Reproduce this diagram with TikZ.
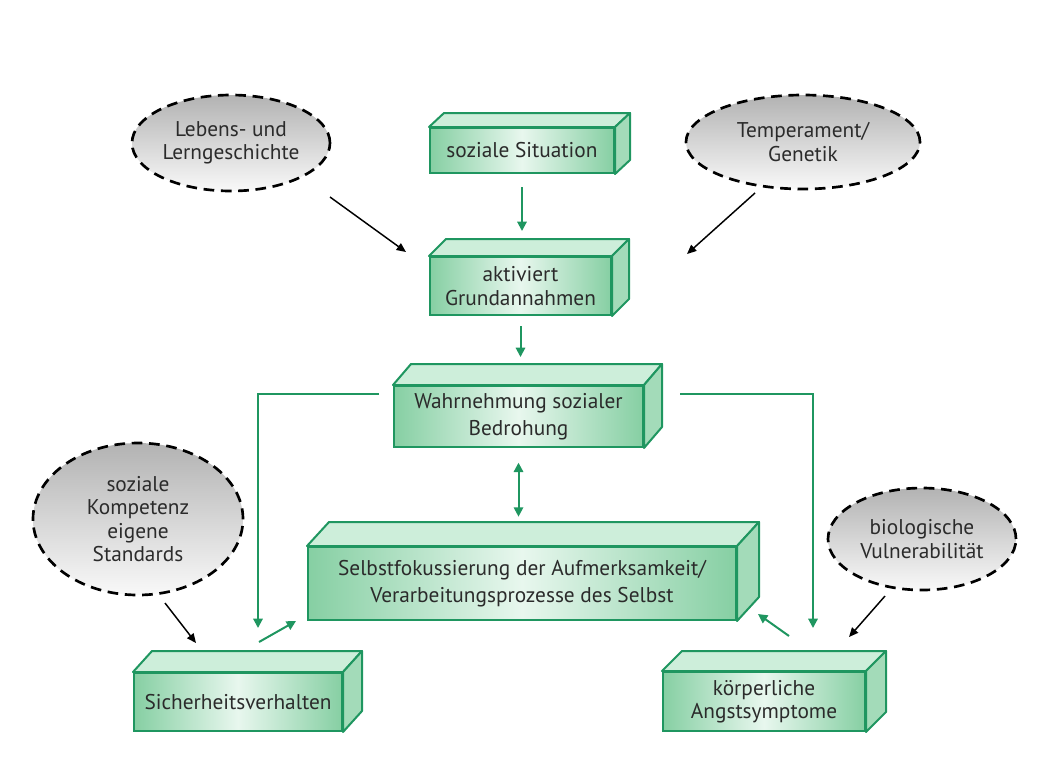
\documentclass[tikz,border=0pt]{standalone}
\usepackage{fontspec}
\setmainfont{PT Sans}
\usetikzlibrary{shapes.geometric,arrows.meta,calc}
\definecolor{gline}{HTML}{1F9660}
\definecolor{gdark}{HTML}{86CFA3}
\definecolor{glight}{HTML}{E8F7EE}
\definecolor{gtop}{HTML}{CDEEDA}
\definecolor{gside}{HTML}{A3DBB9}
\definecolor{txt}{HTML}{2B2B2B}
\newcommand\depthfaces[3]{%
  \path[topf] (#1.north west) -- ++(#2,-#3) -- ($(#1.north east)+(#2,-#3)$) -- (#1.north east) -- cycle;
  \path[sidef] (#1.north east) -- ++(#2,-#3) -- ($(#1.south east)+(#2,-#3)$) -- (#1.south east) -- cycle;
}
\begin{document}
\begin{tikzpicture}[x=0.75pt,y=-0.75pt,
  every node/.style={text=txt, font=\fontsize{16}{17.5}\selectfont, align=center},
  front/.style={draw=gline, line width=1.5pt, left color=gdark, right color=gdark, middle color=glight, inner sep=0pt},
  topf/.style={fill=gtop, draw=gline, line width=1.5pt, line join=round},
  sidef/.style={fill=gside, draw=gline, line width=1.5pt, line join=round},
  cloudy/.style={ellipse, draw=black, line width=2pt, dash pattern=on 8pt off 5pt, top color=gray!60, bottom color=gray!5, inner sep=0pt},
  garrow/.style={draw=gline, line width=1.5pt, -{Triangle[length=7pt,width=7pt]}},
  gboth/.style={draw=gline, line width=1.5pt, {Triangle[length=7pt,width=7pt]}-{Triangle[length=7pt,width=7pt]}},
  barrow/.style={draw=black, line width=1.1pt, -{Triangle[length=7pt,width=6pt]}}
]
\useasboundingbox (0,0) rectangle (1044,765);

% boxes
\node[front, minimum width=138pt, minimum height=33.75pt] (s1) at (522,150.5) {soziale Situation};
\depthfaces{s1}{15}{14}
\node[front, minimum width=135.75pt, minimum height=43.5pt] (s2) at (520.5,286) {aktiviert\\Grundannahmen};
\depthfaces{s2}{17}{17}
\node[front, minimum width=186.75pt, minimum height=45.75pt, font=\fontsize{16}{20}\selectfont] (s3) at (518.5,416.5) {Wahrnehmung sozialer\\Bedrohung};
\depthfaces{s3}{18}{21}
\node[front, minimum width=321pt, minimum height=54.75pt, font=\fontsize{16}{20}\selectfont] (s4) at (522,583.5) {Selbstfokussierung der Aufmerksamkeit/\\Verarbeitungsprozesse des Selbst};
\depthfaces{s4}{22}{24}
\node[front, minimum width=156pt, minimum height=43.5pt] (s5) at (238,702) {Sicherheitsverhalten};
\depthfaces{s5}{19}{21}
\node[front, minimum width=151.5pt, minimum height=44.25pt] (s6) at (764,701.5) {körperliche\\Angstsymptome};
\depthfaces{s6}{20}{20}

% ellipses
\node[cloudy, minimum width=148.5pt, minimum height=72pt] (e1) at (231,143) {Lebens- und\\Lerngeschichte};
\node[cloudy, minimum width=175.5pt, minimum height=70.5pt] (e2) at (803,142) {Temperament/\\Genetik};
\node[cloudy, minimum width=157.5pt, minimum height=114pt] (e3) at (138,519) {soziale\\Kompetenz\\eigene\\Standards};
\node[cloudy, minimum width=141pt, minimum height=76.5pt] (e4) at (922,539) {biologische\\Vulnerabilität};

% green connectors
\draw[garrow, shorten <=10pt, shorten >=18.75pt] (s1.south) -- (s1.south |- s2.north);
\draw[garrow, shorten <=7.5pt, shorten >=21pt] (s2.south) -- (s2.south |- s3.north);
\draw[gboth, shorten <=11pt, shorten >=22pt] (s3.south) -- (s3.south |- s4.north);

\coordinate (lstart) at (379,394);
\coordinate (lend) at (258,628);
\coordinate (rstart) at (680,394);
\coordinate (rend) at (813,628);
\draw[garrow] (lstart) -| (lend);
\draw[garrow] (rstart) -| (rend);

\coordinate (d1a) at (259,642);
\coordinate (d1b) at (296,621);
\coordinate (d2a) at (789,636);
\coordinate (d2b) at (758,614);
\draw[garrow] (d1a) -- (d1b);
\draw[garrow] (d2a) -- (d2b);

% black connectors
\coordinate (b1a) at (330,197);
\coordinate (b1b) at (406,252);
\coordinate (b2a) at (755,193);
\coordinate (b2b) at (687,254);
\coordinate (b3a) at (165,603);
\coordinate (b3b) at (196,643);
\coordinate (b4a) at (885,596);
\coordinate (b4b) at (849,637);
\draw[barrow] (b1a) -- (b1b);
\draw[barrow] (b2a) -- (b2b);
\draw[barrow] (b3a) -- (b3b);
\draw[barrow] (b4a) -- (b4b);
\end{tikzpicture}
\end{document}
